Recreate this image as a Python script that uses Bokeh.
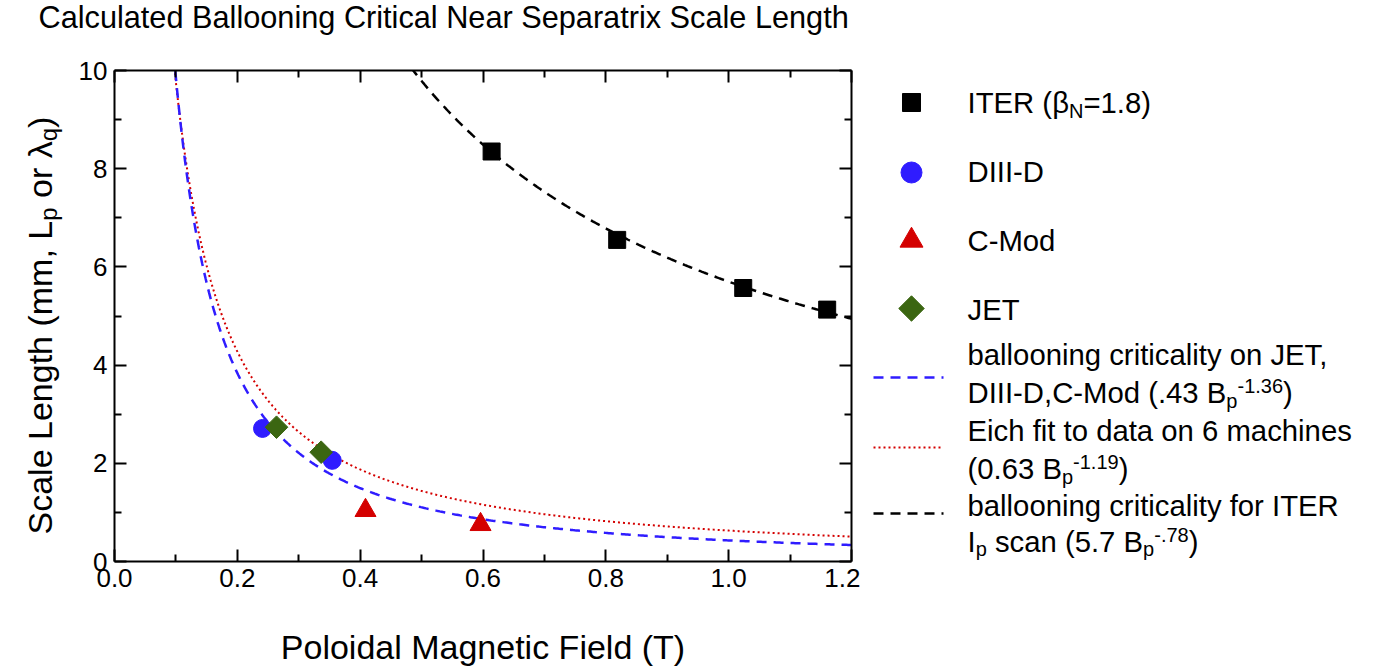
import numpy as np
from bokeh.plotting import figure
from bokeh.layouts import row, column
from bokeh.models import (Range1d, LinearAxis, FixedTicker, Label,
                          CustomJSTickFormatter)
from bokeh.embed import file_html
from bokeh.resources import INLINE

# ---------------- data ----------------
iter_bp = [0.614, 0.8185, 1.0237, 1.1604]
iter_len = [8.35, 6.55, 5.57, 5.13]

diiid_bp = [0.241, 0.3545]
diiid_len = [2.71, 2.06]

cmod_bp = [0.4087, 0.596]
cmod_len = [1.04, 0.754]

jet_bp = [0.2638, 0.3365]
jet_len = [2.735, 2.226]

# power-law fits  L = coef * Bp ** expo
fit_jet_coef, fit_jet_expo = 0.43, -1.36
fit_eich_coef, fit_eich_expo = 0.63, -1.19
fit_iter_coef, fit_iter_expo = 5.7, -0.78

x_ticks = [0.0, 0.2, 0.4, 0.6, 0.8, 1.0, 1.2]
x_tick_labels = ["0.0", "0.2", "0.4", "0.6", "0.8", "1.0", "1.2"]
x_minor = [0.1, 0.3, 0.5, 0.7, 0.9, 1.1]
y_ticks = [0, 2, 4, 6, 8, 10]
y_tick_labels = ["0", "2", "4", "6", "8", "10"]
y_minor = [1, 3, 5, 7, 9]

FONT = "Liberation Sans"
BLUE = "#2f1cff"
RED = "#d40000"
GREEN = "#3b6611"

# advance widths (per 1000 em) for the sans face, used to chain text runs
_W = {' ': 278, '(': 333, ')': 333, ',': 278, '-': 333, '.': 278, '=': 584,
      'β': 575, 'λ': 500}
_W.update({d: 556 for d in "0123456789"})
_W.update(dict(zip("ABCDEFGHIJKLMNOPQRSTUVWXYZ",
                   [667, 667, 722, 722, 667, 611, 778, 722, 278, 500, 667, 556, 833,
                    722, 778, 667, 778, 722, 667, 611, 722, 667, 944, 667, 667, 611])))
_W.update(dict(zip("abcdefghijklmnopqrstuvwxyz",
                   [556, 556, 500, 556, 556, 278, 556, 556, 222, 222, 500, 222, 833,
                    556, 556, 556, 556, 333, 500, 278, 556, 500, 722, 500, 500, 500])))

# distance of the middle of the ascent/descent box above the baseline (em)
MID_ABOVE_BASELINE = 0.3465


def text_width(s, size):
    return sum(_W.get(c, 556) for c in s) * size / 1000.0


def rich_text(fig, x0, y0, parts, angle=0.0, color="black"):
    """Chain runs of (text, size, rise) from page pixel (x0, y0) on the baseline.
    The receiving figure uses page pixels as its data coordinates."""
    pos = 0.0
    for text, size, rise in parts:
        lead = len(text) - len(text.lstrip(" "))
        start = pos + text_width(" " * lead, size)
        up = rise + MID_ABOVE_BASELINE * size
        if angle == 0:
            sx, sy = x0 + start, y0 - up
        else:
            sx, sy = x0 - up, y0 - start
        fig.add_layout(Label(x=sx, y=sy, text=text.strip(" "), text_font=FONT,
                             text_font_size=f"{size}px", text_align="left",
                             text_baseline="middle", angle=angle,
                             text_color=color))
        pos += text_width(text, size)


def blank_panel(width, height, x0, x1, y_bottom, y_top, **borders):
    f = figure(width=width, height=height, output_backend="svg",
               toolbar_location=None, x_range=Range1d(x0, x1),
               y_range=Range1d(y_bottom, y_top),
               x_axis_location=None, y_axis_location=None, **borders)
    f.outline_line_color = None
    f.xgrid.visible = False
    f.ygrid.visible = False
    return f


# page geometry
PAGE_W, PAGE_H = 1378, 668
TITLE_H = 40
LEFT, RIGHT, TOP, BOTTOM = 114, 851, 70, 561
STRIP_W = 64
MAIN_W = 860 - STRIP_W
LEG_W = PAGE_W - 860
ROW_H = PAGE_H - TITLE_H
B_TOP, B_BOTTOM = TOP - TITLE_H, PAGE_H - BOTTOM

# ---------------- title band ----------------
title_fig = blank_panel(PAGE_W, TITLE_H, 0, PAGE_W, TITLE_H, 0, min_border=0)
rich_text(title_fig, 38, 28,
          [("Calculated Ballooning Critical Near Separatrix Scale Length", 30.7, 0)])

# ---------------- y-axis title strip ----------------
strip = blank_panel(STRIP_W, ROW_H, 0, STRIP_W, BOTTOM, TOP,
                    min_border_left=0, min_border_right=0,
                    min_border_top=B_TOP, min_border_bottom=B_BOTTOM)
rich_text(strip, 51, 534, [("Scale Length (mm, L", 34, 0), ("p", 24, -5),
                           (" or λ", 34, 0), ("q", 24, -5), (")", 34, 0)],
          angle=np.pi / 2)

# ---------------- main plot ----------------
p = figure(width=MAIN_W, height=ROW_H, output_backend="svg", toolbar_location=None,
           x_range=Range1d(0, 1.2), y_range=Range1d(0, 10),
           min_border_left=LEFT - STRIP_W, min_border_right=860 - RIGHT,
           min_border_top=B_TOP, min_border_bottom=B_BOTTOM,
           x_axis_location=None, y_axis_location=None)
p.outline_line_color = None
p.xgrid.visible = False
p.ygrid.visible = False


def style_axis(ax, labelled):
    ax.axis_line_width = 2
    ax.axis_line_color = "black"
    ax.major_tick_line_width = 2
    ax.minor_tick_line_width = 2
    ax.major_tick_in = 12
    ax.major_tick_out = 0
    ax.minor_tick_in = 7
    ax.minor_tick_out = 0
    ax.major_label_text_font = FONT
    ax.major_label_text_font_size = "26px"
    ax.major_label_text_color = "black"
    ax.major_label_standoff = 7
    if not labelled:
        ax.formatter = CustomJSTickFormatter(code="return ''")
        ax.major_label_standoff = 0
        ax.major_label_text_font_size = "1px"


xb = LinearAxis(ticker=FixedTicker(ticks=x_ticks, minor_ticks=x_minor),
                major_label_overrides=dict(zip(x_ticks, x_tick_labels)))
style_axis(xb, True)
xb.axis_label = "Poloidal Magnetic Field (T)"
xb.axis_label_text_font = FONT
xb.axis_label_text_font_size = "34px"
xb.axis_label_text_font_style = "normal"
xb.axis_label_text_color = "black"
xb.axis_label_standoff = 38
p.add_layout(xb, "below")

xt = LinearAxis(ticker=FixedTicker(ticks=x_ticks, minor_ticks=x_minor))
style_axis(xt, False)
p.add_layout(xt, "above")

yl = LinearAxis(ticker=FixedTicker(ticks=y_ticks, minor_ticks=y_minor),
                major_label_overrides=dict(zip(y_ticks, y_tick_labels)))
style_axis(yl, True)
p.add_layout(yl, "left")

yr = LinearAxis(ticker=FixedTicker(ticks=y_ticks, minor_ticks=y_minor))
style_axis(yr, False)
p.add_layout(yr, "right")

# fitted curves
bp_low = np.linspace(0.09, 1.2, 400)
bp_iter = np.linspace(0.45, 1.2, 300)
p.line(bp_low, fit_eich_coef * bp_low ** fit_eich_expo, line_color=RED,
       line_width=2, line_dash="2 3")
p.line(bp_low, fit_jet_coef * bp_low ** fit_jet_expo, line_color=BLUE,
       line_width=2.5, line_dash="10 7")
p.line(bp_iter, fit_iter_coef * bp_iter ** fit_iter_expo, line_color="black",
       line_width=2.5, line_dash="10 7")

# measured / calculated points
p.scatter(diiid_bp, diiid_len, marker="circle", size=18, fill_color=BLUE,
          line_color=BLUE)
p.scatter(jet_bp, jet_len, marker="square", size=16, angle=np.pi / 4,
          fill_color=GREEN, line_color=GREEN)
p.scatter(cmod_bp, cmod_len, marker="triangle", size=21, fill_color=RED,
          line_color=RED)
p.scatter(iter_bp, iter_len, marker="square", size=17, fill_color="black",
          line_color="black")

# ---------------- legend panel ----------------
leg = blank_panel(LEG_W, ROW_H, 0, LEG_W, BOTTOM, TOP,
                  min_border_left=0, min_border_right=0,
                  min_border_top=B_TOP, min_border_bottom=B_BOTTOM)

MX, TX = 51, 107
leg.scatter([MX], [102], marker="square", size=18, fill_color="black", line_color="black")
leg.scatter([MX], [172], marker="circle", size=21, fill_color=BLUE, line_color=BLUE)
leg.scatter([MX], [240], marker="triangle", size=23, fill_color=RED, line_color=RED)
leg.scatter([MX], [308], marker="square", size=18, angle=np.pi / 4,
            fill_color=GREEN, line_color=GREEN)

leg.line([13, 83], [377, 377], line_color=BLUE, line_width=2.5, line_dash="10 7")
leg.line([13, 83], [447, 447], line_color=RED, line_width=2, line_dash="2 3")
leg.line([13, 83], [513, 513], line_color="black", line_width=2.5, line_dash="10 7")

LS, SS = 29.3, 20
rich_text(leg, TX, 112, [("ITER (β", LS, 0), ("N", SS, -5), ("=1.8)", LS, 0)])
rich_text(leg, TX, 181, [("DIII-D", LS, 0)])
rich_text(leg, TX, 250, [("C-Mod", LS, 0)])
rich_text(leg, TX, 319, [("JET", LS, 0)])

rich_text(leg, TX, 364, [("ballooning criticality on JET,", LS, 0)])
rich_text(leg, TX, 402, [("DIII-D,C-Mod (.43 B", LS, 0), ("p", SS, -5),
                         ("-1.36", SS, 10), (")", LS, 0)])
rich_text(leg, TX, 440, [("Eich fit to data on 6 machines", LS, 0)])
rich_text(leg, TX, 478, [("(0.63 B", LS, 0), ("p", SS, -5), ("-1.19", SS, 10),
                         (")", LS, 0)])
rich_text(leg, TX, 515, [("ballooning criticality for ITER", LS, 0)])
rich_text(leg, TX, 551, [("I", LS, 0), ("p", SS, -4), (" scan (5.7 B", LS, 0),
                         ("p", SS, -4), ("-.78", SS, 10), (")", LS, 0)])

layout = column(title_fig, row(strip, p, leg, spacing=0), spacing=0)
open("out.html", "w").write(file_html(layout, INLINE))
